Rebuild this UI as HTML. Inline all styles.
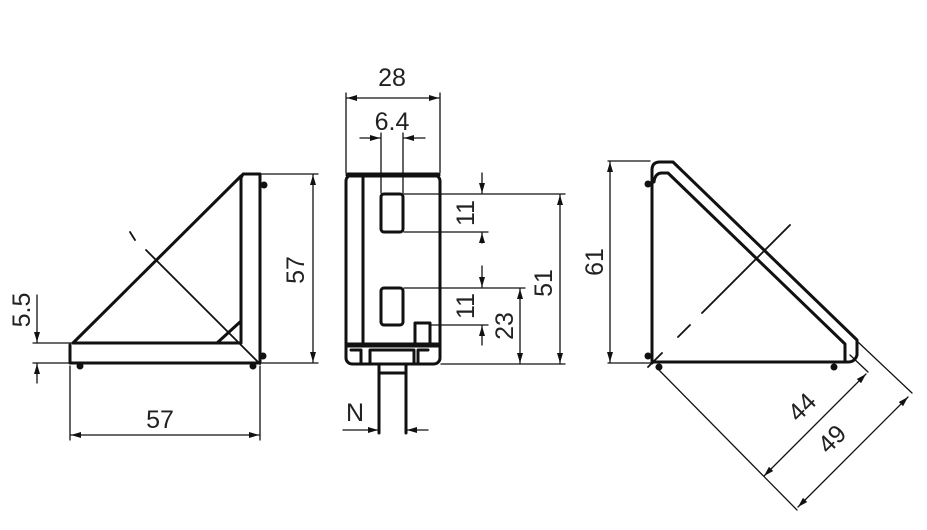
<!DOCTYPE html>
<html><head><meta charset="utf-8"><style>
html,body{margin:0;padding:0;background:#fff;}
svg{display:block;}
text{font-family:"Liberation Sans","DejaVu Sans",sans-serif;font-size:25px;fill:#222;}
</style></head><body>
<svg width="927" height="530" viewBox="0 0 927 530" xmlns="http://www.w3.org/2000/svg">
<defs>
<marker id="a" viewBox="0 0 10 6" refX="10" refY="3" markerWidth="10" markerHeight="6" markerUnits="userSpaceOnUse" orient="auto-start-reverse">
<path d="M0,0 L10,3 L0,6 Z" fill="#111"/></marker>
</defs>
<g stroke="#111" fill="none" stroke-linecap="round" stroke-linejoin="round">
<!-- LEFT VIEW -->
<g stroke-width="3">
<path d="M73,343 L241,176 M70,345 L70,363 L260,363 L260,174 L243,174 L241,178 L241,343 L73,343"/>
<path d="M217,343 L240,322"/>
</g>
<g stroke-width="1.8">
<path d="M130,232 L135,240 M146,250 L260,364"/>
</g>
<g stroke-width="2" fill="#111">
<circle cx="80" cy="366" r="2.5"/><circle cx="253" cy="366" r="2.5"/><circle cx="264" cy="185" r="2.5"/><circle cx="263" cy="356" r="2.5"/>
</g>
<g stroke-width="1.3">
<path d="M262,174 L318,174 M262,363 L318,363"/>
<path d="M313,175 L313,362" marker-start="url(#a)" marker-end="url(#a)"/>
<path d="M70,366 L70,440 M260,366 L260,440"/>
<path d="M71,435 L259,435" marker-start="url(#a)" marker-end="url(#a)"/>
<path d="M33,343 L72,343 M33,363 L72,363"/>
<path d="M37,295 L37,342" marker-end="url(#a)"/>
<path d="M37,383 L37,364" marker-end="url(#a)"/>
</g>
<!-- MIDDLE VIEW -->
<g stroke-width="3">
<rect x="346" y="175" width="94" height="189" rx="6"/>
<path d="M363,176 L363,345"/>
<rect x="381" y="194" width="22" height="38" rx="3"/>
<rect x="381" y="288" width="22" height="37" rx="3"/>
<path d="M415,345 L415,323 L430,323 L430,345"/>
<path d="M351,350 L361,350 L361,364 M428,350 L418,350 L418,364 M370,364 L370,350 L414,350 L414,364"/>
<path d="M379,364 L379,433 M406,364 L406,433 M379,373 L406,373"/>
</g>
<path d="M348,175 L438,175" stroke-width="5"/>
<path d="M347,345 L439,345" stroke-width="5"/>
<g stroke-width="1.3">
<path d="M346,93 L346,173 M440,93 L440,173"/>
<path d="M347,98 L439,98" marker-start="url(#a)" marker-end="url(#a)"/>
<path d="M381,133 L381,193 M403,133 L403,193"/>
<path d="M360,138 L380,138" marker-end="url(#a)"/>
<path d="M425,138 L404,138" marker-end="url(#a)"/>
<path d="M404,194 L565,194 M404,232 L488,232 M404,288 L525,288 M431,325 L488,325 M441,364 L565,364"/>
<path d="M482,173 L482,193" marker-end="url(#a)"/>
<path d="M482,243 L482,233" marker-end="url(#a)"/>
<path d="M482,266 L482,287" marker-end="url(#a)"/>
<path d="M482,345 L482,326" marker-end="url(#a)"/>
<path d="M520,289 L520,363" marker-start="url(#a)" marker-end="url(#a)"/>
<path d="M560,195 L560,363" marker-start="url(#a)" marker-end="url(#a)"/>
<path d="M343,430 L378,430" marker-end="url(#a)"/>
<path d="M428,430 L407,430" marker-end="url(#a)"/>
</g>
<!-- RIGHT VIEW -->
<g stroke-width="3">
<path d="M652,363 L652,170 Q652,162 660,162 L673,162 L857,340 L857,355 Q855,362 848,362 L652,362"/>
<path d="M654,182 Q655,173 662,173 L668,173 L845,344 L845,361"/>
</g>
<g stroke-width="2" fill="#111">
<circle cx="648" cy="184" r="2.5"/><circle cx="648" cy="356" r="2.5"/><circle cx="659" cy="367" r="2.5"/><circle cx="834" cy="367" r="2.5"/>
</g>
<g stroke-width="1.8">
<path d="M790,225 L702,313 M690,325 L678,337 M662,353 L648,367"/>
</g>
<g stroke-width="1.3">
<path d="M608,161 L650,161 M608,363 L650,363"/>
<path d="M610,162 L610,362" marker-start="url(#a)" marker-end="url(#a)"/>
<path d="M656,367 L797,510 M850,355 L868,372 M858,342 L912,393"/>
<path d="M866,374 L764,476" marker-start="url(#a)" marker-end="url(#a)"/>
<path d="M908,397 L798,507" marker-start="url(#a)" marker-end="url(#a)"/>
</g>
</g>
<!-- LABELS -->
<text x="160" y="428" text-anchor="middle">57</text>
<text transform="translate(304,270) rotate(-90)" text-anchor="middle">57</text>
<text transform="translate(30,310) rotate(-90)" text-anchor="middle">5.5</text>
<text x="392" y="86" text-anchor="middle">28</text>
<text x="392" y="130" text-anchor="middle">6.4</text>
<text transform="translate(474,213) rotate(-90)" text-anchor="middle">11</text>
<text transform="translate(474,306) rotate(-90)" text-anchor="middle">11</text>
<text transform="translate(513,326) rotate(-90)" text-anchor="middle">23</text>
<text transform="translate(552,283) rotate(-90)" text-anchor="middle">51</text>
<text x="355" y="421" text-anchor="middle">N</text>
<text transform="translate(603,262) rotate(-90)" text-anchor="middle">61</text>
<text transform="translate(808,413) rotate(-45)" text-anchor="middle">44</text>
<text transform="translate(838,445) rotate(-45)" text-anchor="middle">49</text>
</svg>
</body></html>
